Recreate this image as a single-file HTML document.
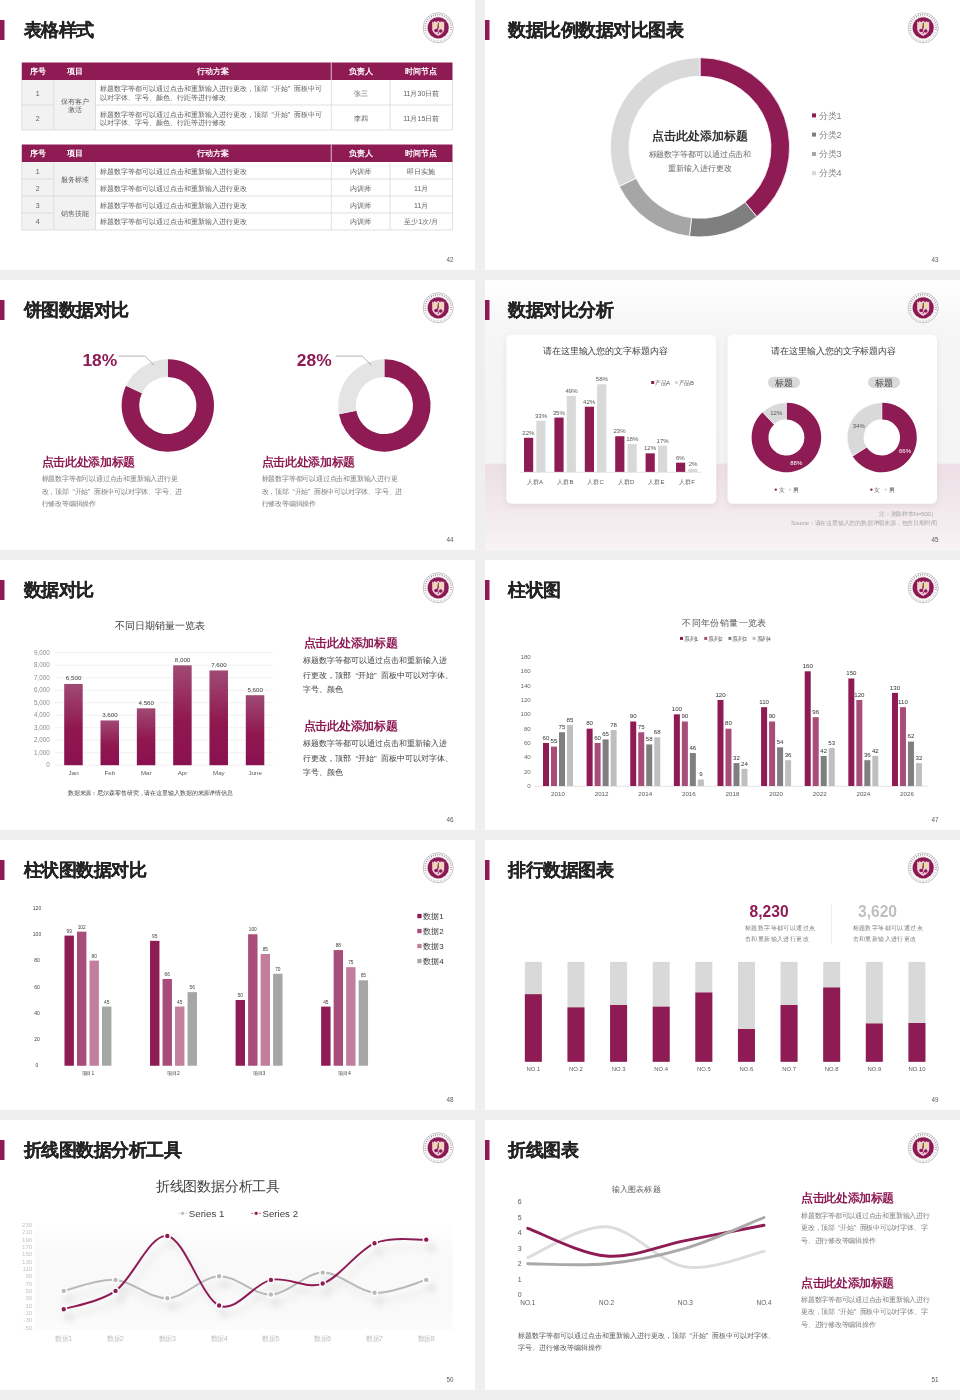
<!DOCTYPE html>
<html lang="zh"><head><meta charset="utf-8"><title>slides</title>
<style>
html,body{margin:0;padding:0}
body{width:960px;height:1400px;background:#efefef;position:relative;overflow:hidden;font-family:"Liberation Sans",sans-serif}
.s{position:absolute;width:475px;height:270px;background:#fff;overflow:hidden}
.w{position:absolute;left:0;top:0;width:475px;height:270px;will-change:transform}
svg{position:absolute;left:0;top:0;font-family:"Liberation Sans",sans-serif}
.t{position:absolute;white-space:nowrap}
.q{margin:0 .5em}
.h{-webkit-text-stroke:.2px #242424}
</style></head>
<body>
<div class="s" style="left:0px;top:0px"><div class="w">
<svg width="475" height="270" viewBox="0 0 475 270">
<rect x="21.75" y="80" width="73.75" height="50" fill="#f2f2f2"/><rect x="21.75" y="62.5" width="430.75" height="17.5" fill="#8e1b54"/><path d="M331.25 62.5V80" stroke="#fff" stroke-width=".7"/><path d="M21.75 80V130M53.75 80V130M95.5 80V130M331.25 80V130M390 80V130M452.5 80V130M21.75 130H452.5" stroke="#d4d4d4" stroke-width=".7" fill="none"/><path d="M21.75 105H53.75M95.5 105H452.5" stroke="#d4d4d4" stroke-width=".7"/><rect x="21.75" y="162" width="73.75" height="68" fill="#f2f2f2"/><rect x="21.75" y="144.5" width="430.75" height="17.5" fill="#8e1b54"/><path d="M331.25 144.5V162" stroke="#fff" stroke-width=".7"/><path d="M21.75 162V230M53.75 162V230M95.5 162V230M331.25 162V230M390 162V230M452.5 162V230M21.75 230H452.5" stroke="#d4d4d4" stroke-width=".7" fill="none"/><path d="M21.75 179H53.75M95.5 179H452.5M21.75 213H53.75M95.5 213H452.5M21.75 196H452.5" stroke="#d4d4d4" stroke-width=".7"/>
<rect x="0" y="20" width="4.5" height="20" fill="#8e1b54"/>
<g transform="translate(438.2 27.8)">
<circle r="15" fill="#fff" stroke="#9f9a9d" stroke-width=".6"/>
<path d="M-12.500 3A12.900 12.900 0 1 1 12.500 3" fill="none" stroke="#7d6873" stroke-width="1.5" stroke-dasharray=".7 1.55"/>
<path d="M-12.300 4.200A12.900 12.900 0 0 0 12.300 4.200" fill="none" stroke="#c5b3bd" stroke-width="1.300" stroke-dasharray=".6 .9"/>
<circle r="11.2" fill="none" stroke="#f3d9e3" stroke-width=".7"/>
<circle r="10.6" fill="#8a1a52"/>
<path d="M-6-6.500l1.200 1.100 1.300-1.400 1.600 1.300L0-7l1.900 1.500 1.600-1.300 1.300 1.400L6-6.500V1.300C6 4.800 2.700 6.900 0 8.100-2.700 6.900-6 4.800-6 1.300z" fill="#f3ccd9"/>
<path d="M-4.800-4.700h3.900V-.6c-1.500-.2-3 .3-3.900 1.400zM.9-4.700h3.900v6C3.900.2 2.400-.3.900-.2z" fill="#e8dea8"/>
<circle cx="-2.200" cy="2.700" r="1.750" fill="#8a1a52"/><circle cx="2.500" cy="3.100" r="1.750" fill="#8a1a52"/>
<path d="M-.2-5.400h.7l.1 5.200-.9 2.300 1 2.700-.7 1.600-.7-.4.500-1.300-1-2.500z" fill="#8a1a52"/>
</g>
</svg>
<div class="t h" style="left:23.5px;top:19px;font-size:18px;line-height:22px;color:#242424;letter-spacing:-0.45px;font-weight:bold;">表格样式</div>
<div class="t" style="left:400px;top:255px;font-size:6.3px;line-height:9px;color:#595959;text-align:right;width:53.5px;">42</div>
<div class="t" style="left:-2.25px;top:66px;font-size:8px;line-height:11px;color:#fff;font-weight:bold;text-align:center;width:80px;">序号</div><div class="t" style="left:34.62px;top:66px;font-size:8px;line-height:11px;color:#fff;font-weight:bold;text-align:center;width:80px;">项目</div><div class="t" style="left:173.38px;top:66px;font-size:8px;line-height:11px;color:#fff;font-weight:bold;text-align:center;width:80px;">行动方案</div><div class="t" style="left:320.62px;top:66px;font-size:8px;line-height:11px;color:#fff;font-weight:bold;text-align:center;width:80px;">负责人</div><div class="t" style="left:381.25px;top:66px;font-size:8px;line-height:11px;color:#fff;font-weight:bold;text-align:center;width:80px;">时间节点</div><div class="t" style="left:-2.25px;top:148px;font-size:8px;line-height:11px;color:#fff;font-weight:bold;text-align:center;width:80px;">序号</div><div class="t" style="left:34.62px;top:148px;font-size:8px;line-height:11px;color:#fff;font-weight:bold;text-align:center;width:80px;">项目</div><div class="t" style="left:173.38px;top:148px;font-size:8px;line-height:11px;color:#fff;font-weight:bold;text-align:center;width:80px;">行动方案</div><div class="t" style="left:320.62px;top:148px;font-size:8px;line-height:11px;color:#fff;font-weight:bold;text-align:center;width:80px;">负责人</div><div class="t" style="left:381.25px;top:148px;font-size:8px;line-height:11px;color:#fff;font-weight:bold;text-align:center;width:80px;">时间节点</div><div class="t" style="left:17.75px;top:89px;font-size:7px;line-height:9px;color:#5f5f5f;text-align:center;width:40px;">1</div><div class="t" style="left:100px;top:84px;font-size:7px;line-height:9px;color:#5f5f5f;">标题数字等都可以通过点击和重新输入进行更改，顶部<span class="q">“开始”</span>面板中可</div><div class="t" style="left:100px;top:93px;font-size:7px;line-height:9px;color:#5f5f5f;">以对字体、字号、颜色、行距等进行修改</div><div class="t" style="left:330.62px;top:89px;font-size:7px;line-height:9px;color:#5f5f5f;text-align:center;width:60px;">张三</div><div class="t" style="left:391.25px;top:89px;font-size:7px;line-height:9px;color:#5f5f5f;text-align:center;width:60px;">11月30日前</div><div class="t" style="left:17.75px;top:114px;font-size:7px;line-height:9px;color:#5f5f5f;text-align:center;width:40px;">2</div><div class="t" style="left:100px;top:110px;font-size:7px;line-height:9px;color:#5f5f5f;">标题数字等都可以通过点击和重新输入进行更改，顶部<span class="q">“开始”</span>面板中可</div><div class="t" style="left:100px;top:118px;font-size:7px;line-height:9px;color:#5f5f5f;">以对字体、字号、颜色、行距等进行修改</div><div class="t" style="left:330.62px;top:114px;font-size:7px;line-height:9px;color:#5f5f5f;text-align:center;width:60px;">李四</div><div class="t" style="left:391.25px;top:114px;font-size:7px;line-height:9px;color:#5f5f5f;text-align:center;width:60px;">11月15日前</div><div class="t" style="left:49.62px;top:97px;font-size:7px;line-height:9px;color:#5f5f5f;text-align:center;width:50px;">保有客户</div><div class="t" style="left:49.62px;top:105px;font-size:7px;line-height:9px;color:#5f5f5f;text-align:center;width:50px;">激活</div><div class="t" style="left:17.75px;top:167px;font-size:7px;line-height:9px;color:#5f5f5f;text-align:center;width:40px;">1</div><div class="t" style="left:100px;top:167px;font-size:7px;line-height:9px;color:#5f5f5f;">标题数字等都可以通过点击和重新输入进行更改</div><div class="t" style="left:330.62px;top:167px;font-size:7px;line-height:9px;color:#5f5f5f;text-align:center;width:60px;">内训师</div><div class="t" style="left:391.25px;top:167px;font-size:7px;line-height:9px;color:#5f5f5f;text-align:center;width:60px;">即日实施</div><div class="t" style="left:17.75px;top:184px;font-size:7px;line-height:9px;color:#5f5f5f;text-align:center;width:40px;">2</div><div class="t" style="left:100px;top:184px;font-size:7px;line-height:9px;color:#5f5f5f;">标题数字等都可以通过点击和重新输入进行更改</div><div class="t" style="left:330.62px;top:184px;font-size:7px;line-height:9px;color:#5f5f5f;text-align:center;width:60px;">内训师</div><div class="t" style="left:391.25px;top:184px;font-size:7px;line-height:9px;color:#5f5f5f;text-align:center;width:60px;">11月</div><div class="t" style="left:17.75px;top:201px;font-size:7px;line-height:9px;color:#5f5f5f;text-align:center;width:40px;">3</div><div class="t" style="left:100px;top:201px;font-size:7px;line-height:9px;color:#5f5f5f;">标题数字等都可以通过点击和重新输入进行更改</div><div class="t" style="left:330.62px;top:201px;font-size:7px;line-height:9px;color:#5f5f5f;text-align:center;width:60px;">内训师</div><div class="t" style="left:391.25px;top:201px;font-size:7px;line-height:9px;color:#5f5f5f;text-align:center;width:60px;">11月</div><div class="t" style="left:17.75px;top:217px;font-size:7px;line-height:9px;color:#5f5f5f;text-align:center;width:40px;">4</div><div class="t" style="left:100px;top:217px;font-size:7px;line-height:9px;color:#5f5f5f;">标题数字等都可以通过点击和重新输入进行更改</div><div class="t" style="left:330.62px;top:217px;font-size:7px;line-height:9px;color:#5f5f5f;text-align:center;width:60px;">内训师</div><div class="t" style="left:391.25px;top:217px;font-size:7px;line-height:9px;color:#5f5f5f;text-align:center;width:60px;">至少1次/月</div><div class="t" style="left:49.62px;top:175px;font-size:7px;line-height:9px;color:#5f5f5f;text-align:center;width:50px;">服务标准</div><div class="t" style="left:49.62px;top:209px;font-size:7px;line-height:9px;color:#5f5f5f;text-align:center;width:50px;">销售技能</div>
</div></div>

<div class="s" style="left:485px;top:0px"><div class="w">
<svg width="475" height="270" viewBox="0 0 475 270">
<path d="M215 57.7A89.6 89.6 0 0 1 271.75 216.64L259.97 202.24A71 71 0 0 0 215 76.3Z" fill="#8e1b54" stroke="#fff" stroke-width=".8"/><path d="M271.75 216.64A89.6 89.6 0 0 1 204.39 236.27L206.59 217.8A71 71 0 0 0 259.97 202.24Z" fill="#7f7f7f" stroke="#fff" stroke-width=".8"/><path d="M204.39 236.27A89.6 89.6 0 0 1 134.33 186.3L151.08 178.2A71 71 0 0 0 206.59 217.8Z" fill="#a6a6a6" stroke="#fff" stroke-width=".8"/><path d="M134.33 186.3A89.6 89.6 0 0 1 215 57.7L215 76.3A71 71 0 0 0 151.08 178.2Z" fill="#d9d9d9" stroke="#fff" stroke-width=".8"/><rect x="327" y="113.4" width="4" height="4" fill="#8e1b54"/><text x="333.6" y="119" font-size="9" fill="#7f7f7f">分类1</text><rect x="327" y="132.6" width="4" height="4" fill="#7f7f7f"/><text x="333.6" y="138" font-size="9" fill="#7f7f7f">分类2</text><rect x="327" y="152" width="4" height="4" fill="#a6a6a6"/><text x="333.6" y="157" font-size="9" fill="#7f7f7f">分类3</text><rect x="327" y="171.2" width="4" height="4" fill="#d9d9d9"/><text x="333.6" y="176" font-size="9" fill="#7f7f7f">分类4</text>
<rect x="0" y="20" width="4.5" height="20" fill="#8e1b54"/>
<g transform="translate(438.2 27.8)">
<circle r="15" fill="#fff" stroke="#9f9a9d" stroke-width=".6"/>
<path d="M-12.500 3A12.900 12.900 0 1 1 12.500 3" fill="none" stroke="#7d6873" stroke-width="1.5" stroke-dasharray=".7 1.55"/>
<path d="M-12.300 4.200A12.900 12.900 0 0 0 12.300 4.200" fill="none" stroke="#c5b3bd" stroke-width="1.300" stroke-dasharray=".6 .9"/>
<circle r="11.2" fill="none" stroke="#f3d9e3" stroke-width=".7"/>
<circle r="10.6" fill="#8a1a52"/>
<path d="M-6-6.500l1.200 1.100 1.300-1.400 1.600 1.300L0-7l1.900 1.500 1.600-1.300 1.300 1.400L6-6.500V1.300C6 4.800 2.700 6.900 0 8.100-2.700 6.900-6 4.800-6 1.300z" fill="#f3ccd9"/>
<path d="M-4.800-4.700h3.900V-.6c-1.500-.2-3 .3-3.900 1.400zM.9-4.700h3.900v6C3.900.2 2.400-.3.900-.2z" fill="#e8dea8"/>
<circle cx="-2.200" cy="2.700" r="1.750" fill="#8a1a52"/><circle cx="2.500" cy="3.100" r="1.750" fill="#8a1a52"/>
<path d="M-.2-5.400h.7l.1 5.200-.9 2.300 1 2.700-.7 1.600-.7-.4.500-1.300-1-2.500z" fill="#8a1a52"/>
</g>
</svg>
<div class="t h" style="left:23.1px;top:19px;font-size:18px;line-height:22px;color:#242424;letter-spacing:-0.45px;font-weight:bold;">数据比例数据对比图表</div>
<div class="t" style="left:400px;top:255px;font-size:6.3px;line-height:9px;color:#595959;text-align:right;width:53.5px;">43</div>
<div class="t" style="left:135px;top:128px;font-size:12px;line-height:16px;color:#333;font-weight:bold;text-align:center;width:160px;">点击此处添加标题</div><div class="t" style="left:134.95px;top:149px;font-size:8px;line-height:11px;color:#666;letter-spacing:-0.1px;text-align:center;width:160px;">标题数字等都可以通过点击和</div><div class="t" style="left:134.95px;top:163px;font-size:8px;line-height:11px;color:#666;letter-spacing:-0.1px;text-align:center;width:160px;">重新输入进行更改</div>
</div></div>

<div class="s" style="left:0px;top:280px"><div class="w">
<svg width="475" height="270" viewBox="0 0 475 270">
<path d="M167.8 79.3A46.2 46.2 0 1 1 126 105.83L141.92 113.32A28.6 28.6 0 1 0 167.8 96.9Z" fill="#8e1b54"/><path d="M126 105.83A46.2 46.2 0 0 1 167.8 79.3L167.8 96.9A28.6 28.6 0 0 0 141.92 113.32Z" fill="#e4e4e4"/><path d="M118.5 76.1H144.9L154 85.2" stroke="#7f7f7f" stroke-width=".6" fill="none"/><text x="82.4" y="86" font-size="17.4" fill="#8e1b54" font-weight="bold">18%</text><path d="M384.4 79.3A46.2 46.2 0 1 1 339.02 134.16L356.31 130.86A28.6 28.6 0 1 0 384.4 96.9Z" fill="#8e1b54"/><path d="M339.02 134.16A46.2 46.2 0 0 1 384.4 79.3L384.4 96.9A28.6 28.6 0 0 0 356.31 130.86Z" fill="#e4e4e4"/><path d="M335.8 76.1H362.2L371.3 85.2" stroke="#7f7f7f" stroke-width=".6" fill="none"/><text x="296.8" y="86" font-size="17.4" fill="#8e1b54" font-weight="bold">28%</text>
<rect x="0" y="20" width="4.5" height="20" fill="#8e1b54"/>
<g transform="translate(438.2 27.8)">
<circle r="15" fill="#fff" stroke="#9f9a9d" stroke-width=".6"/>
<path d="M-12.500 3A12.900 12.900 0 1 1 12.500 3" fill="none" stroke="#7d6873" stroke-width="1.5" stroke-dasharray=".7 1.55"/>
<path d="M-12.300 4.200A12.900 12.900 0 0 0 12.300 4.200" fill="none" stroke="#c5b3bd" stroke-width="1.300" stroke-dasharray=".6 .9"/>
<circle r="11.2" fill="none" stroke="#f3d9e3" stroke-width=".7"/>
<circle r="10.6" fill="#8a1a52"/>
<path d="M-6-6.500l1.200 1.100 1.300-1.400 1.600 1.300L0-7l1.900 1.500 1.600-1.300 1.300 1.400L6-6.500V1.300C6 4.800 2.700 6.900 0 8.100-2.700 6.900-6 4.800-6 1.300z" fill="#f3ccd9"/>
<path d="M-4.800-4.700h3.900V-.6c-1.500-.2-3 .3-3.900 1.400zM.9-4.700h3.900v6C3.900.2 2.400-.3.900-.2z" fill="#e8dea8"/>
<circle cx="-2.200" cy="2.700" r="1.750" fill="#8a1a52"/><circle cx="2.500" cy="3.100" r="1.750" fill="#8a1a52"/>
<path d="M-.2-5.400h.7l.1 5.200-.9 2.300 1 2.700-.7 1.600-.7-.4.500-1.300-1-2.500z" fill="#8a1a52"/>
</g>
</svg>
<div class="t h" style="left:23.5px;top:19px;font-size:18px;line-height:22px;color:#242424;letter-spacing:-0.45px;font-weight:bold;">饼图数据对比</div>
<div class="t" style="left:400px;top:255px;font-size:6.3px;line-height:9px;color:#595959;text-align:right;width:53.5px;">44</div>
<div class="t" style="left:41.6px;top:174px;font-size:12px;line-height:16px;color:#8e1b54;letter-spacing:-0.3px;font-weight:bold;">点击此处添加标题</div><div class="t" style="left:41.7px;top:194px;font-size:7px;line-height:9px;color:#7f7f7f;letter-spacing:-0.2px;">标题数字等都可以通过点击和重新输入进行更</div><div class="t" style="left:41.7px;top:207px;font-size:7px;line-height:9px;color:#7f7f7f;letter-spacing:-0.2px;">改，顶部<span class="q">“开始”</span>面板中可以对字体、字号、进</div><div class="t" style="left:41.7px;top:219px;font-size:7px;line-height:9px;color:#7f7f7f;letter-spacing:-0.2px;">行修改等编辑操作</div><div class="t" style="left:261.6px;top:174px;font-size:12px;line-height:16px;color:#8e1b54;letter-spacing:-0.3px;font-weight:bold;">点击此处添加标题</div><div class="t" style="left:261.7px;top:194px;font-size:7px;line-height:9px;color:#7f7f7f;letter-spacing:-0.2px;">标题数字等都可以通过点击和重新输入进行更</div><div class="t" style="left:261.7px;top:207px;font-size:7px;line-height:9px;color:#7f7f7f;letter-spacing:-0.2px;">改，顶部<span class="q">“开始”</span>面板中可以对字体、字号、进</div><div class="t" style="left:261.7px;top:219px;font-size:7px;line-height:9px;color:#7f7f7f;letter-spacing:-0.2px;">行修改等编辑操作</div>
</div></div>

<div class="s" style="left:485px;top:280px"><div class="w">
<svg width="475" height="270" viewBox="0 0 475 270">
<defs><linearGradient id="pk" x1="0" y1="0" x2="0" y2="1"><stop offset="0" stop-color="#ecdfe5"/><stop offset="1" stop-color="#f8f3f5"/></linearGradient>
<linearGradient id="tp" x1="0" y1="0" x2="0" y2="1"><stop offset="0" stop-color="#fff"/><stop offset=".25" stop-color="#f6f6f6"/><stop offset="1" stop-color="#f4f4f4"/></linearGradient>
<filter id="sh" x="-10%" y="-10%" width="120%" height="125%"><feGaussianBlur stdDeviation="3"/></filter></defs>
<rect width="475" height="184" fill="url(#tp)"/><rect y="183.7" width="475" height="87" fill="url(#pk)"/><rect x="21.3" y="57" width="210" height="169" rx="6" fill="#b9a9b1" opacity=".28" filter="url(#sh)"/><rect x="21.3" y="54.5" width="210" height="169.3" rx="5.5" fill="#fff"/><rect x="242.5" y="57" width="209.5" height="169" rx="6" fill="#b9a9b1" opacity=".28" filter="url(#sh)"/><rect x="242.5" y="54.5" width="209.5" height="169.3" rx="5.5" fill="#fff"/><rect x="39" y="157.79" width="9.2" height="34.21" fill="#8e1b54"/><rect x="51.3" y="140.69" width="9.2" height="51.31" fill="#d9d9d9"/><text x="43.4" y="155" font-size="6.1" fill="#595959" text-anchor="middle">22%</text><text x="56.1" y="138" font-size="6.1" fill="#595959" text-anchor="middle">33%</text><text x="49.9" y="204" font-size="6" fill="#595959" text-anchor="middle" letter-spacing="0.2">人群A</text><rect x="69.4" y="137.57" width="9.2" height="54.42" fill="#8e1b54"/><rect x="81.7" y="115.81" width="9.2" height="76.19" fill="#d9d9d9"/><text x="73.8" y="135" font-size="6.1" fill="#595959" text-anchor="middle">35%</text><text x="86.5" y="113" font-size="6.1" fill="#595959" text-anchor="middle">49%</text><text x="80.3" y="204" font-size="6" fill="#595959" text-anchor="middle" letter-spacing="0.2">人群B</text><rect x="99.8" y="126.69" width="9.2" height="65.31" fill="#8e1b54"/><rect x="112.1" y="104.3" width="9.2" height="87.7" fill="#d9d9d9"/><text x="104.2" y="124" font-size="6.1" fill="#595959" text-anchor="middle">42%</text><text x="116.9" y="101" font-size="6.1" fill="#595959" text-anchor="middle">58%</text><text x="110.7" y="204" font-size="6" fill="#595959" text-anchor="middle" letter-spacing="0.2">人群C</text><rect x="130.2" y="156.24" width="9.2" height="35.77" fill="#8e1b54"/><rect x="142.5" y="164.01" width="9.2" height="27.99" fill="#d9d9d9"/><text x="134.6" y="153" font-size="6.1" fill="#595959" text-anchor="middle">23%</text><text x="147.3" y="161" font-size="6.1" fill="#595959" text-anchor="middle">18%</text><text x="141.1" y="204" font-size="6" fill="#595959" text-anchor="middle" letter-spacing="0.2">人群D</text><rect x="160.6" y="173.34" width="9.2" height="18.66" fill="#8e1b54"/><rect x="172.9" y="165.56" width="9.2" height="26.43" fill="#d9d9d9"/><text x="165" y="170" font-size="6.1" fill="#595959" text-anchor="middle">12%</text><text x="177.7" y="163" font-size="6.1" fill="#595959" text-anchor="middle">17%</text><text x="171.5" y="204" font-size="6" fill="#595959" text-anchor="middle" letter-spacing="0.2">人群E</text><rect x="191" y="182.67" width="9.2" height="9.33" fill="#8e1b54"/><rect x="203.3" y="188.89" width="9.2" height="3.11" fill="#d9d9d9"/><text x="195.4" y="180" font-size="6.1" fill="#595959" text-anchor="middle">6%</text><text x="208.1" y="186" font-size="6.1" fill="#595959" text-anchor="middle">2%</text><text x="201.9" y="204" font-size="6" fill="#595959" text-anchor="middle" letter-spacing="0.2">人群F</text><path d="M35 192.3H216" stroke="#d9d9d9" stroke-width=".7"/><rect x="166.2" y="101" width="3" height="3" fill="#8e1b54"/><text x="170" y="105" font-size="6" fill="#595959" letter-spacing="-0.4">产品A</text><rect x="190" y="101" width="3" height="3" fill="#d9d9d9"/><text x="193.8" y="105" font-size="6" fill="#595959" letter-spacing="-0.4">产品B</text><text x="120.25" y="74" font-size="9" fill="#404040" text-anchor="middle" letter-spacing="-0.1">请在这里输入您的文字标题内容</text><text x="348.75" y="74" font-size="9" fill="#404040" text-anchor="middle" letter-spacing="-0.1">请在这里输入您的文字标题内容</text><path d="M301.4 122.7A34.8 34.8 0 1 1 277.58 132.13L289.08 144.38A18 18 0 1 0 301.4 139.5Z" fill="#8e1b54"/><path d="M277.58 132.13A34.8 34.8 0 0 1 301.4 122.7L301.4 139.5A18 18 0 0 0 289.08 144.38Z" fill="#d9d9d9" stroke="#fff" stroke-width=".5"/><text x="291.3" y="135" font-size="6" fill="#595959" text-anchor="middle">12%</text><text x="311.3" y="185" font-size="6" fill="#fff" text-anchor="middle">88%</text><rect x="283" y="96.7" width="32" height="11.3" rx="5.6" fill="#d9d9d9"/><text x="298.9" y="106" font-size="9" fill="#404040" text-anchor="middle" letter-spacing="-0.2">标题</text><circle cx="290.8" cy="209.6" r="1.2" fill="#8e1b54"/><text x="293.8" y="212" font-size="6" fill="#595959" letter-spacing="-0.2">女</text><circle cx="305" cy="209.6" r="1.2" fill="#d9d9d9"/><text x="308" y="212" font-size="6" fill="#595959" letter-spacing="-0.2">男</text><path d="M397 122.7A34.8 34.8 0 1 1 367.62 176.15L381.8 167.14A18 18 0 1 0 397 139.5Z" fill="#8e1b54"/><path d="M367.62 176.15A34.8 34.8 0 0 1 397 122.7L397 139.5A18 18 0 0 0 381.8 167.14Z" fill="#d9d9d9" stroke="#fff" stroke-width=".5"/><text x="373.8" y="148" font-size="6" fill="#595959" text-anchor="middle">34%</text><text x="420" y="173" font-size="6" fill="#fff" text-anchor="middle">66%</text><rect x="383" y="96.7" width="32" height="11.3" rx="5.6" fill="#d9d9d9"/><text x="398.9" y="106" font-size="9" fill="#404040" text-anchor="middle" letter-spacing="-0.2">标题</text><circle cx="386.4" cy="209.6" r="1.2" fill="#8e1b54"/><text x="389.4" y="212" font-size="6" fill="#595959" letter-spacing="-0.2">女</text><circle cx="400.6" cy="209.6" r="1.2" fill="#d9d9d9"/><text x="403.6" y="212" font-size="6" fill="#595959" letter-spacing="-0.2">男</text><text x="451.5" y="236" font-size="6" fill="#a6a6a6" text-anchor="end" letter-spacing="-0.2">注：测算样本N=500）</text><text x="451.5" y="245" font-size="6" fill="#a6a6a6" text-anchor="end" letter-spacing="-0.2">Source：请在这里输入您的数据详细来源，包含日期时间</text>
<rect x="0" y="20" width="4.5" height="20" fill="#8e1b54"/>
<g transform="translate(438.2 27.8)">
<circle r="15" fill="#fff" stroke="#9f9a9d" stroke-width=".6"/>
<path d="M-12.500 3A12.900 12.900 0 1 1 12.500 3" fill="none" stroke="#7d6873" stroke-width="1.5" stroke-dasharray=".7 1.55"/>
<path d="M-12.300 4.200A12.900 12.900 0 0 0 12.300 4.200" fill="none" stroke="#c5b3bd" stroke-width="1.300" stroke-dasharray=".6 .9"/>
<circle r="11.2" fill="none" stroke="#f3d9e3" stroke-width=".7"/>
<circle r="10.6" fill="#8a1a52"/>
<path d="M-6-6.500l1.200 1.100 1.300-1.400 1.600 1.300L0-7l1.900 1.500 1.600-1.300 1.300 1.400L6-6.500V1.300C6 4.800 2.700 6.900 0 8.100-2.700 6.900-6 4.800-6 1.300z" fill="#f3ccd9"/>
<path d="M-4.800-4.700h3.900V-.6c-1.500-.2-3 .3-3.900 1.400zM.9-4.700h3.900v6C3.900.2 2.400-.3.900-.2z" fill="#e8dea8"/>
<circle cx="-2.200" cy="2.700" r="1.750" fill="#8a1a52"/><circle cx="2.500" cy="3.100" r="1.750" fill="#8a1a52"/>
<path d="M-.2-5.400h.7l.1 5.200-.9 2.300 1 2.700-.7 1.600-.7-.4.500-1.300-1-2.500z" fill="#8a1a52"/>
</g>
</svg>
<div class="t h" style="left:23.1px;top:19px;font-size:18px;line-height:22px;color:#242424;letter-spacing:-0.45px;font-weight:bold;">数据对比分析</div>
<div class="t" style="left:400px;top:255px;font-size:6.3px;line-height:9px;color:#595959;text-align:right;width:53.5px;">45</div>

</div></div>

<div class="s" style="left:0px;top:560px"><div class="w">
<svg width="475" height="270" viewBox="0 0 475 270">
<defs><linearGradient id="bg5" x1="0" y1="0" x2="0" y2="1"><stop offset="0" stop-color="#a04a74"/><stop offset=".55" stop-color="#90184f"/><stop offset="1" stop-color="#8a1150"/></linearGradient></defs><text x="49.8" y="207" font-size="6.3" fill="#8c8c8c" text-anchor="end">0</text><text x="49.8" y="195" font-size="6.3" fill="#8c8c8c" text-anchor="end">1,000</text><text x="49.8" y="182" font-size="6.3" fill="#8c8c8c" text-anchor="end">2,000</text><text x="49.8" y="170" font-size="6.3" fill="#8c8c8c" text-anchor="end">3,000</text><text x="49.8" y="157" font-size="6.3" fill="#8c8c8c" text-anchor="end">4,000</text><text x="49.8" y="145" font-size="6.3" fill="#8c8c8c" text-anchor="end">5,000</text><text x="49.8" y="132" font-size="6.3" fill="#8c8c8c" text-anchor="end">6,000</text><text x="49.8" y="120" font-size="6.3" fill="#8c8c8c" text-anchor="end">7,000</text><text x="49.8" y="107" font-size="6.3" fill="#8c8c8c" text-anchor="end">8,000</text><text x="49.8" y="95" font-size="6.3" fill="#8c8c8c" text-anchor="end">9,000</text><path d="M55 205.2H273M55 192.7H273M55 180.2H273M55 167.7H273M55 155.2H273M55 142.7H273M55 130.2H273M55 117.7H273M55 105.2H273M55 92.7H273" stroke="#ebebeb" stroke-width=".7"/><rect x="64.2" y="123.95" width="18.5" height="81.25" fill="url(#bg5)"/><text x="73.6" y="120" font-size="6.2" fill="#404040" text-anchor="middle">6,500</text><text x="73.6" y="215" font-size="6.2" fill="#595959" text-anchor="middle">Jan</text><rect x="100.52" y="160.45" width="18.5" height="44.75" fill="url(#bg5)"/><text x="109.92" y="157" font-size="6.2" fill="#404040" text-anchor="middle">3,600</text><text x="109.92" y="215" font-size="6.2" fill="#595959" text-anchor="middle">Feb</text><rect x="136.84" y="148.33" width="18.5" height="56.88" fill="url(#bg5)"/><text x="146.24" y="145" font-size="6.2" fill="#404040" text-anchor="middle">4,560</text><text x="146.24" y="215" font-size="6.2" fill="#595959" text-anchor="middle">Mar</text><rect x="173.16" y="105.33" width="18.5" height="99.88" fill="url(#bg5)"/><text x="182.56" y="102" font-size="6.2" fill="#404040" text-anchor="middle">8,000</text><text x="182.56" y="215" font-size="6.2" fill="#595959" text-anchor="middle">Apr</text><rect x="209.48" y="110.45" width="18.5" height="94.75" fill="url(#bg5)"/><text x="218.88" y="107" font-size="6.2" fill="#404040" text-anchor="middle">7,600</text><text x="218.88" y="215" font-size="6.2" fill="#595959" text-anchor="middle">May</text><rect x="245.8" y="135.2" width="18.5" height="70" fill="url(#bg5)"/><text x="255.2" y="132" font-size="6.2" fill="#404040" text-anchor="middle">5,600</text><text x="255.2" y="215" font-size="6.2" fill="#595959" text-anchor="middle">June</text><text x="159.5" y="69" font-size="10" fill="#404040" text-anchor="middle">不同日期销量一览表</text><text x="67.8" y="235" font-size="6" fill="#404040" letter-spacing="-0.1">数据来源：尼尔森零售研究，请在这里输入数据的来源详情信息</text>
<rect x="0" y="20" width="4.5" height="20" fill="#8e1b54"/>
<g transform="translate(438.2 27.8)">
<circle r="15" fill="#fff" stroke="#9f9a9d" stroke-width=".6"/>
<path d="M-12.500 3A12.900 12.900 0 1 1 12.500 3" fill="none" stroke="#7d6873" stroke-width="1.5" stroke-dasharray=".7 1.55"/>
<path d="M-12.300 4.200A12.900 12.900 0 0 0 12.300 4.200" fill="none" stroke="#c5b3bd" stroke-width="1.300" stroke-dasharray=".6 .9"/>
<circle r="11.2" fill="none" stroke="#f3d9e3" stroke-width=".7"/>
<circle r="10.6" fill="#8a1a52"/>
<path d="M-6-6.500l1.200 1.100 1.300-1.400 1.600 1.300L0-7l1.900 1.500 1.600-1.300 1.300 1.400L6-6.500V1.300C6 4.800 2.700 6.900 0 8.100-2.700 6.900-6 4.800-6 1.300z" fill="#f3ccd9"/>
<path d="M-4.800-4.700h3.900V-.6c-1.500-.2-3 .3-3.900 1.400zM.9-4.700h3.900v6C3.900.2 2.400-.3.900-.2z" fill="#e8dea8"/>
<circle cx="-2.200" cy="2.700" r="1.750" fill="#8a1a52"/><circle cx="2.500" cy="3.100" r="1.750" fill="#8a1a52"/>
<path d="M-.2-5.400h.7l.1 5.200-.9 2.300 1 2.700-.7 1.600-.7-.4.500-1.300-1-2.500z" fill="#8a1a52"/>
</g>
</svg>
<div class="t h" style="left:23.5px;top:19px;font-size:18px;line-height:22px;color:#242424;letter-spacing:-0.45px;font-weight:bold;">数据对比</div>
<div class="t" style="left:400px;top:255px;font-size:6.3px;line-height:9px;color:#595959;text-align:right;width:53.5px;">46</div>
<div class="t" style="left:303.8px;top:75px;font-size:12px;line-height:16px;color:#8e1b54;letter-spacing:-0.3px;font-weight:bold;">点击此处添加标题</div><div class="t" style="left:303.4px;top:95px;font-size:8px;line-height:11px;color:#404040;">标题数字等都可以通过点击和重新输入进</div><div class="t" style="left:303.4px;top:110px;font-size:8px;line-height:11px;color:#404040;">行更改，顶部<span class="q">“开始”</span>面板中可以对字体、</div><div class="t" style="left:303.4px;top:124px;font-size:8px;line-height:11px;color:#404040;">字号、颜色</div><div class="t" style="left:303.8px;top:158px;font-size:12px;line-height:16px;color:#8e1b54;letter-spacing:-0.3px;font-weight:bold;">点击此处添加标题</div><div class="t" style="left:303.4px;top:178px;font-size:8px;line-height:11px;color:#404040;">标题数字等都可以通过点击和重新输入进</div><div class="t" style="left:303.4px;top:193px;font-size:8px;line-height:11px;color:#404040;">行更改，顶部<span class="q">“开始”</span>面板中可以对字体、</div><div class="t" style="left:303.4px;top:207px;font-size:8px;line-height:11px;color:#404040;">字号、颜色</div>
</div></div>

<div class="s" style="left:485px;top:560px"><div class="w">
<svg width="475" height="270" viewBox="0 0 475 270">
<text x="45.8" y="228" font-size="6.2" fill="#6a6a6a" text-anchor="end">0</text><text x="45.8" y="214" font-size="6.2" fill="#6a6a6a" text-anchor="end">20</text><text x="45.8" y="199" font-size="6.2" fill="#6a6a6a" text-anchor="end">40</text><text x="45.8" y="185" font-size="6.2" fill="#6a6a6a" text-anchor="end">60</text><text x="45.8" y="171" font-size="6.2" fill="#6a6a6a" text-anchor="end">80</text><text x="45.8" y="156" font-size="6.2" fill="#6a6a6a" text-anchor="end">100</text><text x="45.8" y="142" font-size="6.2" fill="#6a6a6a" text-anchor="end">120</text><text x="45.8" y="128" font-size="6.2" fill="#6a6a6a" text-anchor="end">140</text><text x="45.8" y="113" font-size="6.2" fill="#6a6a6a" text-anchor="end">160</text><text x="45.8" y="99" font-size="6.2" fill="#6a6a6a" text-anchor="end">180</text><path d="M50 226.3H443" stroke="#d9d9d9" stroke-width=".7"/><rect x="58" y="183" width="6" height="43" fill="#8e1b54"/><text x="61" y="180" font-size="6.1" fill="#333" text-anchor="middle">60</text><rect x="66" y="186.58" width="6" height="39.42" fill="#a84c7a"/><text x="69" y="183" font-size="6.1" fill="#333" text-anchor="middle">55</text><rect x="74" y="172.25" width="6" height="53.75" fill="#7f7f7f"/><text x="77" y="169" font-size="6.1" fill="#333" text-anchor="middle">75</text><rect x="82" y="165.08" width="6" height="60.92" fill="#bfbfbf"/><text x="85" y="162" font-size="6.1" fill="#333" text-anchor="middle">85</text><text x="73" y="236" font-size="6.2" fill="#595959" text-anchor="middle">2010</text><rect x="101.62" y="168.67" width="6" height="57.33" fill="#8e1b54"/><text x="104.62" y="165" font-size="6.1" fill="#333" text-anchor="middle">80</text><rect x="109.62" y="183" width="6" height="43" fill="#a84c7a"/><text x="112.62" y="180" font-size="6.1" fill="#333" text-anchor="middle">60</text><rect x="117.62" y="179.42" width="6" height="46.58" fill="#7f7f7f"/><text x="120.62" y="176" font-size="6.1" fill="#333" text-anchor="middle">65</text><rect x="125.62" y="170.1" width="6" height="55.9" fill="#bfbfbf"/><text x="128.62" y="167" font-size="6.1" fill="#333" text-anchor="middle">78</text><text x="116.62" y="236" font-size="6.2" fill="#595959" text-anchor="middle">2012</text><rect x="145.24" y="161.5" width="6" height="64.5" fill="#8e1b54"/><text x="148.24" y="158" font-size="6.1" fill="#333" text-anchor="middle">90</text><rect x="153.24" y="172.25" width="6" height="53.75" fill="#a84c7a"/><text x="156.24" y="169" font-size="6.1" fill="#333" text-anchor="middle">75</text><rect x="161.24" y="184.43" width="6" height="41.57" fill="#7f7f7f"/><text x="164.24" y="181" font-size="6.1" fill="#333" text-anchor="middle">58</text><rect x="169.24" y="177.27" width="6" height="48.73" fill="#bfbfbf"/><text x="172.24" y="174" font-size="6.1" fill="#333" text-anchor="middle">68</text><text x="160.24" y="236" font-size="6.2" fill="#595959" text-anchor="middle">2014</text><rect x="188.86" y="154.33" width="6" height="71.67" fill="#8e1b54"/><text x="191.86" y="151" font-size="6.1" fill="#333" text-anchor="middle">100</text><rect x="196.86" y="161.5" width="6" height="64.5" fill="#a84c7a"/><text x="199.86" y="158" font-size="6.1" fill="#333" text-anchor="middle">90</text><rect x="204.86" y="193.03" width="6" height="32.97" fill="#7f7f7f"/><text x="207.86" y="190" font-size="6.1" fill="#333" text-anchor="middle">46</text><rect x="212.86" y="219.55" width="6" height="6.45" fill="#bfbfbf"/><text x="215.86" y="216" font-size="6.1" fill="#333" text-anchor="middle">9</text><text x="203.86" y="236" font-size="6.2" fill="#595959" text-anchor="middle">2016</text><rect x="232.48" y="140" width="6" height="86" fill="#8e1b54"/><text x="235.48" y="137" font-size="6.1" fill="#333" text-anchor="middle">120</text><rect x="240.48" y="168.67" width="6" height="57.33" fill="#a84c7a"/><text x="243.48" y="165" font-size="6.1" fill="#333" text-anchor="middle">80</text><rect x="248.48" y="203.07" width="6" height="22.93" fill="#7f7f7f"/><text x="251.48" y="200" font-size="6.1" fill="#333" text-anchor="middle">32</text><rect x="256.48" y="208.8" width="6" height="17.2" fill="#bfbfbf"/><text x="259.48" y="206" font-size="6.1" fill="#333" text-anchor="middle">24</text><text x="247.48" y="236" font-size="6.2" fill="#595959" text-anchor="middle">2018</text><rect x="276.1" y="147.17" width="6" height="78.83" fill="#8e1b54"/><text x="279.1" y="144" font-size="6.1" fill="#333" text-anchor="middle">110</text><rect x="284.1" y="161.5" width="6" height="64.5" fill="#a84c7a"/><text x="287.1" y="158" font-size="6.1" fill="#333" text-anchor="middle">90</text><rect x="292.1" y="187.3" width="6" height="38.7" fill="#7f7f7f"/><text x="295.1" y="184" font-size="6.1" fill="#333" text-anchor="middle">54</text><rect x="300.1" y="200.2" width="6" height="25.8" fill="#bfbfbf"/><text x="303.1" y="197" font-size="6.1" fill="#333" text-anchor="middle">36</text><text x="291.1" y="236" font-size="6.2" fill="#595959" text-anchor="middle">2020</text><rect x="319.72" y="111.33" width="6" height="114.67" fill="#8e1b54"/><text x="322.72" y="108" font-size="6.1" fill="#333" text-anchor="middle">160</text><rect x="327.72" y="157.2" width="6" height="68.8" fill="#a84c7a"/><text x="330.72" y="154" font-size="6.1" fill="#333" text-anchor="middle">96</text><rect x="335.72" y="195.9" width="6" height="30.1" fill="#7f7f7f"/><text x="338.72" y="193" font-size="6.1" fill="#333" text-anchor="middle">42</text><rect x="343.72" y="188.02" width="6" height="37.98" fill="#bfbfbf"/><text x="346.72" y="185" font-size="6.1" fill="#333" text-anchor="middle">53</text><text x="334.72" y="236" font-size="6.2" fill="#595959" text-anchor="middle">2022</text><rect x="363.34" y="118.5" width="6" height="107.5" fill="#8e1b54"/><text x="366.34" y="115" font-size="6.1" fill="#333" text-anchor="middle">150</text><rect x="371.34" y="140" width="6" height="86" fill="#a84c7a"/><text x="374.34" y="137" font-size="6.1" fill="#333" text-anchor="middle">120</text><rect x="379.34" y="200.2" width="6" height="25.8" fill="#7f7f7f"/><text x="382.34" y="197" font-size="6.1" fill="#333" text-anchor="middle">36</text><rect x="387.34" y="195.9" width="6" height="30.1" fill="#bfbfbf"/><text x="390.34" y="193" font-size="6.1" fill="#333" text-anchor="middle">42</text><text x="378.34" y="236" font-size="6.2" fill="#595959" text-anchor="middle">2024</text><rect x="406.96" y="132.83" width="6" height="93.17" fill="#8e1b54"/><text x="409.96" y="130" font-size="6.1" fill="#333" text-anchor="middle">130</text><rect x="414.96" y="147.17" width="6" height="78.83" fill="#a84c7a"/><text x="417.96" y="144" font-size="6.1" fill="#333" text-anchor="middle">110</text><rect x="422.96" y="181.57" width="6" height="44.43" fill="#7f7f7f"/><text x="425.96" y="178" font-size="6.1" fill="#333" text-anchor="middle">62</text><rect x="430.96" y="203.07" width="6" height="22.93" fill="#bfbfbf"/><text x="433.96" y="200" font-size="6.1" fill="#333" text-anchor="middle">32</text><text x="421.96" y="236" font-size="6.2" fill="#595959" text-anchor="middle">2026</text><text x="239.5" y="66" font-size="9" fill="#595959" text-anchor="middle" letter-spacing="0.4">不同年份销量一览表</text><rect x="195" y="76.9" width="3" height="3" fill="#8e1b54"/><text x="199" y="81" font-size="6" fill="#595959" letter-spacing="-0.5">系列1</text><rect x="219.2" y="76.9" width="3" height="3" fill="#a84c7a"/><text x="223.2" y="81" font-size="6" fill="#595959" letter-spacing="-0.5">系列2</text><rect x="243.4" y="76.9" width="3" height="3" fill="#7f7f7f"/><text x="247.4" y="81" font-size="6" fill="#595959" letter-spacing="-0.5">系列3</text><rect x="267.6" y="76.9" width="3" height="3" fill="#bfbfbf"/><text x="271.6" y="81" font-size="6" fill="#595959" letter-spacing="-0.5">系列4</text>
<rect x="0" y="20" width="4.5" height="20" fill="#8e1b54"/>
<g transform="translate(438.2 27.8)">
<circle r="15" fill="#fff" stroke="#9f9a9d" stroke-width=".6"/>
<path d="M-12.500 3A12.900 12.900 0 1 1 12.500 3" fill="none" stroke="#7d6873" stroke-width="1.5" stroke-dasharray=".7 1.55"/>
<path d="M-12.300 4.200A12.900 12.900 0 0 0 12.300 4.200" fill="none" stroke="#c5b3bd" stroke-width="1.300" stroke-dasharray=".6 .9"/>
<circle r="11.2" fill="none" stroke="#f3d9e3" stroke-width=".7"/>
<circle r="10.6" fill="#8a1a52"/>
<path d="M-6-6.500l1.200 1.100 1.300-1.400 1.600 1.300L0-7l1.900 1.500 1.600-1.300 1.300 1.400L6-6.500V1.300C6 4.800 2.700 6.900 0 8.100-2.700 6.900-6 4.800-6 1.300z" fill="#f3ccd9"/>
<path d="M-4.800-4.700h3.900V-.6c-1.500-.2-3 .3-3.900 1.400zM.9-4.700h3.900v6C3.900.2 2.400-.3.900-.2z" fill="#e8dea8"/>
<circle cx="-2.200" cy="2.700" r="1.750" fill="#8a1a52"/><circle cx="2.500" cy="3.100" r="1.750" fill="#8a1a52"/>
<path d="M-.2-5.400h.7l.1 5.200-.9 2.300 1 2.700-.7 1.600-.7-.4.500-1.300-1-2.500z" fill="#8a1a52"/>
</g>
</svg>
<div class="t h" style="left:23.1px;top:19px;font-size:18px;line-height:22px;color:#242424;letter-spacing:-0.45px;font-weight:bold;">柱状图</div>
<div class="t" style="left:400px;top:255px;font-size:6.3px;line-height:9px;color:#595959;text-align:right;width:53.5px;">47</div>

</div></div>

<div class="s" style="left:0px;top:840px"><div class="w">
<svg width="475" height="270" viewBox="0 0 475 270">
<text x="37" y="227" font-size="5" fill="#404040" text-anchor="middle">0</text><text x="37" y="201" font-size="5" fill="#404040" text-anchor="middle">20</text><text x="37" y="175" font-size="5" fill="#404040" text-anchor="middle">40</text><text x="37" y="149" font-size="5" fill="#404040" text-anchor="middle">60</text><text x="37" y="122" font-size="5" fill="#404040" text-anchor="middle">80</text><text x="37" y="96" font-size="5" fill="#404040" text-anchor="middle">100</text><text x="37" y="70" font-size="5" fill="#404040" text-anchor="middle">120</text><rect x="64.5" y="95.61" width="9.4" height="130.14" fill="#8e1b54"/><text x="69.2" y="93" font-size="4.8" fill="#404040" text-anchor="middle">99</text><rect x="77" y="91.66" width="9.4" height="134.09" fill="#a84c7a"/><text x="81.7" y="89" font-size="4.8" fill="#404040" text-anchor="middle">102</text><rect x="89.5" y="120.58" width="9.4" height="105.17" fill="#c27f9d"/><text x="94.2" y="118" font-size="4.8" fill="#404040" text-anchor="middle">80</text><rect x="102" y="166.59" width="9.4" height="59.16" fill="#a6a6a6"/><text x="106.7" y="164" font-size="4.8" fill="#404040" text-anchor="middle">45</text><text x="87.85" y="235" font-size="5" fill="#404040" text-anchor="middle" letter-spacing="-0.1">项目1</text><rect x="150.05" y="100.86" width="9.4" height="124.89" fill="#8e1b54"/><text x="154.75" y="98" font-size="4.8" fill="#404040" text-anchor="middle">95</text><rect x="162.55" y="138.99" width="9.4" height="86.76" fill="#a84c7a"/><text x="167.25" y="136" font-size="4.8" fill="#404040" text-anchor="middle">66</text><rect x="175.05" y="166.59" width="9.4" height="59.16" fill="#c27f9d"/><text x="179.75" y="164" font-size="4.8" fill="#404040" text-anchor="middle">45</text><rect x="187.55" y="152.13" width="9.4" height="73.62" fill="#a6a6a6"/><text x="192.25" y="149" font-size="4.8" fill="#404040" text-anchor="middle">56</text><text x="173.4" y="235" font-size="5" fill="#404040" text-anchor="middle" letter-spacing="-0.1">项目2</text><rect x="235.6" y="160.02" width="9.4" height="65.73" fill="#8e1b54"/><text x="240.3" y="157" font-size="4.8" fill="#404040" text-anchor="middle">50</text><rect x="248.1" y="94.29" width="9.4" height="131.46" fill="#a84c7a"/><text x="252.8" y="91" font-size="4.8" fill="#404040" text-anchor="middle">100</text><rect x="260.6" y="114.01" width="9.4" height="111.74" fill="#c27f9d"/><text x="265.3" y="111" font-size="4.8" fill="#404040" text-anchor="middle">85</text><rect x="273.1" y="133.73" width="9.4" height="92.02" fill="#a6a6a6"/><text x="277.8" y="131" font-size="4.8" fill="#404040" text-anchor="middle">70</text><text x="258.95" y="235" font-size="5" fill="#404040" text-anchor="middle" letter-spacing="-0.1">项目3</text><rect x="321.15" y="166.59" width="9.4" height="59.16" fill="#8e1b54"/><text x="325.85" y="164" font-size="4.8" fill="#404040" text-anchor="middle">45</text><rect x="333.65" y="110.07" width="9.4" height="115.68" fill="#a84c7a"/><text x="338.35" y="107" font-size="4.8" fill="#404040" text-anchor="middle">88</text><rect x="346.15" y="127.16" width="9.4" height="98.59" fill="#c27f9d"/><text x="350.85" y="124" font-size="4.8" fill="#404040" text-anchor="middle">75</text><rect x="358.65" y="140.3" width="9.4" height="85.45" fill="#a6a6a6"/><text x="363.35" y="137" font-size="4.8" fill="#404040" text-anchor="middle">65</text><text x="344.5" y="235" font-size="5" fill="#404040" text-anchor="middle" letter-spacing="-0.1">项目4</text><rect x="417.3" y="73.9" width="4.3" height="4.3" fill="#8e1b54"/><text x="423.2" y="79" font-size="8" fill="#333">数据1</text><rect x="417.3" y="88.9" width="4.3" height="4.3" fill="#a84c7a"/><text x="423.2" y="94" font-size="8" fill="#333">数据2</text><rect x="417.3" y="103.9" width="4.3" height="4.3" fill="#c27f9d"/><text x="423.2" y="109" font-size="8" fill="#333">数据3</text><rect x="417.3" y="118.9" width="4.3" height="4.3" fill="#a6a6a6"/><text x="423.2" y="124" font-size="8" fill="#333">数据4</text>
<rect x="0" y="20" width="4.5" height="20" fill="#8e1b54"/>
<g transform="translate(438.2 27.8)">
<circle r="15" fill="#fff" stroke="#9f9a9d" stroke-width=".6"/>
<path d="M-12.500 3A12.900 12.900 0 1 1 12.500 3" fill="none" stroke="#7d6873" stroke-width="1.5" stroke-dasharray=".7 1.55"/>
<path d="M-12.300 4.200A12.900 12.900 0 0 0 12.300 4.200" fill="none" stroke="#c5b3bd" stroke-width="1.300" stroke-dasharray=".6 .9"/>
<circle r="11.2" fill="none" stroke="#f3d9e3" stroke-width=".7"/>
<circle r="10.6" fill="#8a1a52"/>
<path d="M-6-6.500l1.200 1.100 1.300-1.400 1.600 1.300L0-7l1.900 1.500 1.600-1.300 1.300 1.400L6-6.500V1.300C6 4.800 2.700 6.900 0 8.100-2.700 6.900-6 4.800-6 1.300z" fill="#f3ccd9"/>
<path d="M-4.800-4.700h3.900V-.6c-1.500-.2-3 .3-3.900 1.400zM.9-4.700h3.900v6C3.900.2 2.400-.3.900-.2z" fill="#e8dea8"/>
<circle cx="-2.200" cy="2.700" r="1.750" fill="#8a1a52"/><circle cx="2.500" cy="3.100" r="1.750" fill="#8a1a52"/>
<path d="M-.2-5.400h.7l.1 5.200-.9 2.300 1 2.700-.7 1.600-.7-.4.500-1.300-1-2.500z" fill="#8a1a52"/>
</g>
</svg>
<div class="t h" style="left:23.5px;top:19px;font-size:18px;line-height:22px;color:#242424;letter-spacing:-0.45px;font-weight:bold;">柱状图数据对比</div>
<div class="t" style="left:400px;top:255px;font-size:6.3px;line-height:9px;color:#595959;text-align:right;width:53.5px;">48</div>

</div></div>

<div class="s" style="left:485px;top:840px"><div class="w">
<svg width="475" height="270" viewBox="0 0 475 270">
<rect x="39.85" y="121.9" width="17" height="99.9" fill="#d9d9d9"/><rect x="39.85" y="154.2" width="17" height="67.6" fill="#8e1b54"/><text x="48.35" y="231" font-size="5.9" fill="#595959" text-anchor="middle">NO.1</text><rect x="82.47" y="121.9" width="17" height="99.9" fill="#d9d9d9"/><rect x="82.47" y="167.4" width="17" height="54.4" fill="#8e1b54"/><text x="90.97" y="231" font-size="5.9" fill="#595959" text-anchor="middle">NO.2</text><rect x="125.09" y="121.9" width="17" height="99.9" fill="#d9d9d9"/><rect x="125.09" y="165" width="17" height="56.8" fill="#8e1b54"/><text x="133.59" y="231" font-size="5.9" fill="#595959" text-anchor="middle">NO.3</text><rect x="167.71" y="121.9" width="17" height="99.9" fill="#d9d9d9"/><rect x="167.71" y="166.7" width="17" height="55.1" fill="#8e1b54"/><text x="176.21" y="231" font-size="5.9" fill="#595959" text-anchor="middle">NO.4</text><rect x="210.33" y="121.9" width="17" height="99.9" fill="#d9d9d9"/><rect x="210.33" y="152.5" width="17" height="69.3" fill="#8e1b54"/><text x="218.83" y="231" font-size="5.9" fill="#595959" text-anchor="middle">NO.5</text><rect x="252.95" y="121.9" width="17" height="99.9" fill="#d9d9d9"/><rect x="252.95" y="189" width="17" height="32.8" fill="#8e1b54"/><text x="261.45" y="231" font-size="5.9" fill="#595959" text-anchor="middle">NO.6</text><rect x="295.57" y="121.9" width="17" height="99.9" fill="#d9d9d9"/><rect x="295.57" y="165" width="17" height="56.8" fill="#8e1b54"/><text x="304.07" y="231" font-size="5.9" fill="#595959" text-anchor="middle">NO.7</text><rect x="338.19" y="121.9" width="17" height="99.9" fill="#d9d9d9"/><rect x="338.19" y="147.5" width="17" height="74.3" fill="#8e1b54"/><text x="346.69" y="231" font-size="5.9" fill="#595959" text-anchor="middle">NO.8</text><rect x="380.81" y="121.9" width="17" height="99.9" fill="#d9d9d9"/><rect x="380.81" y="183.5" width="17" height="38.3" fill="#8e1b54"/><text x="389.31" y="231" font-size="5.9" fill="#595959" text-anchor="middle">NO.9</text><rect x="423.43" y="121.9" width="17" height="99.9" fill="#d9d9d9"/><rect x="423.43" y="183" width="17" height="38.8" fill="#8e1b54"/><text x="431.93" y="231" font-size="5.9" fill="#595959" text-anchor="middle">NO.10</text><text x="264.6" y="77" font-size="15.6" fill="#8e1b54" font-weight="bold">8,230</text><text x="373" y="77" font-size="15.6" fill="#bfbfbf" font-weight="bold">3,620</text><path d="M346.5 64V104" stroke="#e6e6e6" stroke-width=".7"/><text x="260" y="90" font-size="6" fill="#7f7f7f" letter-spacing="0.4">标题数字等都可以通过点</text><text x="260" y="101" font-size="6" fill="#7f7f7f" letter-spacing="0.4">击和重新输入进行更改</text><text x="367.6" y="90" font-size="6" fill="#7f7f7f" letter-spacing="0.4">标题数字等都可以通过点</text><text x="367.6" y="101" font-size="6" fill="#7f7f7f" letter-spacing="0.4">击和重新输入进行更改</text>
<rect x="0" y="20" width="4.5" height="20" fill="#8e1b54"/>
<g transform="translate(438.2 27.8)">
<circle r="15" fill="#fff" stroke="#9f9a9d" stroke-width=".6"/>
<path d="M-12.500 3A12.900 12.900 0 1 1 12.500 3" fill="none" stroke="#7d6873" stroke-width="1.5" stroke-dasharray=".7 1.55"/>
<path d="M-12.300 4.200A12.900 12.900 0 0 0 12.300 4.200" fill="none" stroke="#c5b3bd" stroke-width="1.300" stroke-dasharray=".6 .9"/>
<circle r="11.2" fill="none" stroke="#f3d9e3" stroke-width=".7"/>
<circle r="10.6" fill="#8a1a52"/>
<path d="M-6-6.500l1.200 1.100 1.300-1.400 1.600 1.300L0-7l1.900 1.500 1.600-1.300 1.300 1.400L6-6.500V1.300C6 4.800 2.700 6.900 0 8.100-2.700 6.900-6 4.800-6 1.300z" fill="#f3ccd9"/>
<path d="M-4.800-4.700h3.900V-.6c-1.500-.2-3 .3-3.900 1.400zM.9-4.700h3.900v6C3.900.2 2.400-.3.900-.2z" fill="#e8dea8"/>
<circle cx="-2.200" cy="2.700" r="1.750" fill="#8a1a52"/><circle cx="2.500" cy="3.100" r="1.750" fill="#8a1a52"/>
<path d="M-.2-5.400h.7l.1 5.200-.9 2.300 1 2.700-.7 1.600-.7-.4.500-1.300-1-2.500z" fill="#8a1a52"/>
</g>
</svg>
<div class="t h" style="left:23.1px;top:19px;font-size:18px;line-height:22px;color:#242424;letter-spacing:-0.45px;font-weight:bold;">排行数据图表</div>
<div class="t" style="left:400px;top:255px;font-size:6.3px;line-height:9px;color:#595959;text-align:right;width:53.5px;">49</div>

</div></div>

<div class="s" style="left:0px;top:1120px"><div class="w">
<svg width="475" height="270" viewBox="0 0 475 270">
<defs><linearGradient id="pl" x1="0" y1="0" x2="0" y2="1"><stop offset="0" stop-color="#fefefe"/><stop offset=".3" stop-color="#f9f9f9"/><stop offset=".8" stop-color="#f9f9f9"/><stop offset="1" stop-color="#fcfcfc"/></linearGradient>
<filter id="bl" x="-10%" y="-30%" width="120%" height="160%"><feGaussianBlur stdDeviation="3.2"/></filter></defs>
<rect x="35" y="104.5" width="417.5" height="105.5" fill="url(#pl)"/><text x="32.3" y="107" font-size="6.2" fill="#c4c4c4" text-anchor="end">230</text><text x="32.3" y="114" font-size="6.2" fill="#c4c4c4" text-anchor="end">210</text><text x="32.3" y="122" font-size="6.2" fill="#c4c4c4" text-anchor="end">190</text><text x="32.3" y="129" font-size="6.2" fill="#c4c4c4" text-anchor="end">170</text><text x="32.3" y="136" font-size="6.2" fill="#c4c4c4" text-anchor="end">150</text><text x="32.3" y="144" font-size="6.2" fill="#c4c4c4" text-anchor="end">130</text><text x="32.3" y="151" font-size="6.2" fill="#c4c4c4" text-anchor="end">110</text><text x="32.3" y="158" font-size="6.2" fill="#c4c4c4" text-anchor="end">90</text><text x="32.3" y="166" font-size="6.2" fill="#c4c4c4" text-anchor="end">70</text><text x="32.3" y="173" font-size="6.2" fill="#c4c4c4" text-anchor="end">50</text><text x="32.3" y="180" font-size="6.2" fill="#c4c4c4" text-anchor="end">30</text><text x="32.3" y="188" font-size="6.2" fill="#c4c4c4" text-anchor="end">10</text><text x="32.3" y="195" font-size="6.2" fill="#c4c4c4" text-anchor="end">-10</text><text x="32.3" y="202" font-size="6.2" fill="#c4c4c4" text-anchor="end">-30</text><text x="32.3" y="210" font-size="6.2" fill="#c4c4c4" text-anchor="end">-50</text><g transform="translate(5 8)" filter="url(#bl)" opacity=".2"><path d="M63.75 170.89C72.38 169.06 98.28 158.69 115.54 159.91C132.8 161.13 150.07 178.82 167.33 178.21C184.59 177.6 201.86 156.86 219.12 156.25C236.38 155.64 253.65 175.16 270.91 174.55C288.17 173.94 305.44 152.89 322.7 152.59C339.96 152.28 357.23 171.5 374.49 172.72C391.75 173.94 417.65 162.05 426.28 159.91" fill="none" stroke="#9a8f95" stroke-width="2"/><circle cx="63.75" cy="170.89" r="4.6" fill="#9a8f95"/><circle cx="115.54" cy="159.91" r="4.6" fill="#9a8f95"/><circle cx="167.33" cy="178.21" r="4.6" fill="#9a8f95"/><circle cx="219.12" cy="156.25" r="4.6" fill="#9a8f95"/><circle cx="270.91" cy="174.55" r="4.6" fill="#9a8f95"/><circle cx="322.7" cy="152.59" r="4.6" fill="#9a8f95"/><circle cx="374.49" cy="172.72" r="4.6" fill="#9a8f95"/><circle cx="426.28" cy="159.91" r="4.6" fill="#9a8f95"/></g><g transform="translate(5 8)" filter="url(#bl)" opacity=".2"><path d="M63.75 189.2C72.38 186.15 98.28 183.1 115.54 170.89C132.8 158.69 150.07 113.54 167.33 115.98C184.59 118.42 201.86 178.21 219.12 185.54C236.38 192.86 253.65 163.57 270.91 159.91C288.17 156.25 305.44 169.67 322.7 163.57C339.96 157.47 357.23 130.62 374.49 123.3C391.75 115.98 417.65 120.25 426.28 119.64" fill="none" stroke="#9a8f95" stroke-width="2"/><circle cx="63.75" cy="189.2" r="4.6" fill="#9a8f95"/><circle cx="115.54" cy="170.89" r="4.6" fill="#9a8f95"/><circle cx="167.33" cy="115.98" r="4.6" fill="#9a8f95"/><circle cx="219.12" cy="185.54" r="4.6" fill="#9a8f95"/><circle cx="270.91" cy="159.91" r="4.6" fill="#9a8f95"/><circle cx="322.7" cy="163.57" r="4.6" fill="#9a8f95"/><circle cx="374.49" cy="123.3" r="4.6" fill="#9a8f95"/><circle cx="426.28" cy="119.64" r="4.6" fill="#9a8f95"/></g><path d="M63.75 170.89C72.38 169.06 98.28 158.69 115.54 159.91C132.8 161.13 150.07 178.82 167.33 178.21C184.59 177.6 201.86 156.86 219.12 156.25C236.38 155.64 253.65 175.16 270.91 174.55C288.17 173.94 305.44 152.89 322.7 152.59C339.96 152.28 357.23 171.5 374.49 172.72C391.75 173.94 417.65 162.05 426.28 159.91" fill="none" stroke="#b9b9b9" stroke-width="1.95"/><circle cx="63.75" cy="170.89" r="2.9" fill="#b9b9b9" stroke="#fff" stroke-width="1.4"/><circle cx="115.54" cy="159.91" r="2.9" fill="#b9b9b9" stroke="#fff" stroke-width="1.4"/><circle cx="167.33" cy="178.21" r="2.9" fill="#b9b9b9" stroke="#fff" stroke-width="1.4"/><circle cx="219.12" cy="156.25" r="2.9" fill="#b9b9b9" stroke="#fff" stroke-width="1.4"/><circle cx="270.91" cy="174.55" r="2.9" fill="#b9b9b9" stroke="#fff" stroke-width="1.4"/><circle cx="322.7" cy="152.59" r="2.9" fill="#b9b9b9" stroke="#fff" stroke-width="1.4"/><circle cx="374.49" cy="172.72" r="2.9" fill="#b9b9b9" stroke="#fff" stroke-width="1.4"/><circle cx="426.28" cy="159.91" r="2.9" fill="#b9b9b9" stroke="#fff" stroke-width="1.4"/><path d="M63.75 189.2C72.38 186.15 98.28 183.1 115.54 170.89C132.8 158.69 150.07 113.54 167.33 115.98C184.59 118.42 201.86 178.21 219.12 185.54C236.38 192.86 253.65 163.57 270.91 159.91C288.17 156.25 305.44 169.67 322.7 163.57C339.96 157.47 357.23 130.62 374.49 123.3C391.75 115.98 417.65 120.25 426.28 119.64" fill="none" stroke="#8e1b54" stroke-width="1.95"/><circle cx="63.75" cy="189.2" r="2.9" fill="#8e1b54" stroke="#fff" stroke-width="1.4"/><circle cx="115.54" cy="170.89" r="2.9" fill="#8e1b54" stroke="#fff" stroke-width="1.4"/><circle cx="167.33" cy="115.98" r="2.9" fill="#8e1b54" stroke="#fff" stroke-width="1.4"/><circle cx="219.12" cy="185.54" r="2.9" fill="#8e1b54" stroke="#fff" stroke-width="1.4"/><circle cx="270.91" cy="159.91" r="2.9" fill="#8e1b54" stroke="#fff" stroke-width="1.4"/><circle cx="322.7" cy="163.57" r="2.9" fill="#8e1b54" stroke="#fff" stroke-width="1.4"/><circle cx="374.49" cy="123.3" r="2.9" fill="#8e1b54" stroke="#fff" stroke-width="1.4"/><circle cx="426.28" cy="119.64" r="2.9" fill="#8e1b54" stroke="#fff" stroke-width="1.4"/><text x="63.5" y="221" font-size="7" fill="#bfbfbf" text-anchor="middle" letter-spacing="-0.5">数据1</text><text x="115.29" y="221" font-size="7" fill="#bfbfbf" text-anchor="middle" letter-spacing="-0.5">数据2</text><text x="167.08" y="221" font-size="7" fill="#bfbfbf" text-anchor="middle" letter-spacing="-0.5">数据3</text><text x="218.87" y="221" font-size="7" fill="#bfbfbf" text-anchor="middle" letter-spacing="-0.5">数据4</text><text x="270.66" y="221" font-size="7" fill="#bfbfbf" text-anchor="middle" letter-spacing="-0.5">数据5</text><text x="322.45" y="221" font-size="7" fill="#bfbfbf" text-anchor="middle" letter-spacing="-0.5">数据6</text><text x="374.24" y="221" font-size="7" fill="#bfbfbf" text-anchor="middle" letter-spacing="-0.5">数据7</text><text x="426.03" y="221" font-size="7" fill="#bfbfbf" text-anchor="middle" letter-spacing="-0.5">数据8</text><text x="217.9" y="71" font-size="14" fill="#404040" text-anchor="middle" letter-spacing="-0.2">折线图数据分析工具</text><path d="M178 93.3H187" stroke="#c9c9c9" stroke-width="1" stroke-dasharray="1.3 1.3"/><circle cx="182.6" cy="93.3" r="1.9" fill="#b9b9b9" stroke="#fff" stroke-width=".6"/><text x="188.8" y="97" font-size="9.7" fill="#404040">Series 1</text><path d="M251.6 93.3H260.600" stroke="#8e1b54" stroke-width="1" stroke-dasharray="1.3 1.3"/><circle cx="256.2" cy="93.3" r="1.9" fill="#8e1b54" stroke="#fff" stroke-width=".6"/><text x="262.5" y="97" font-size="9.7" fill="#404040">Series 2</text>
<rect x="0" y="20" width="4.5" height="20" fill="#8e1b54"/>
<g transform="translate(438.2 27.8)">
<circle r="15" fill="#fff" stroke="#9f9a9d" stroke-width=".6"/>
<path d="M-12.500 3A12.900 12.900 0 1 1 12.500 3" fill="none" stroke="#7d6873" stroke-width="1.5" stroke-dasharray=".7 1.55"/>
<path d="M-12.300 4.200A12.900 12.900 0 0 0 12.300 4.200" fill="none" stroke="#c5b3bd" stroke-width="1.300" stroke-dasharray=".6 .9"/>
<circle r="11.2" fill="none" stroke="#f3d9e3" stroke-width=".7"/>
<circle r="10.6" fill="#8a1a52"/>
<path d="M-6-6.500l1.200 1.100 1.300-1.400 1.600 1.300L0-7l1.900 1.500 1.600-1.300 1.300 1.400L6-6.500V1.300C6 4.800 2.700 6.900 0 8.100-2.700 6.900-6 4.800-6 1.300z" fill="#f3ccd9"/>
<path d="M-4.800-4.700h3.900V-.6c-1.500-.2-3 .3-3.900 1.400zM.9-4.700h3.900v6C3.900.2 2.400-.3.900-.2z" fill="#e8dea8"/>
<circle cx="-2.200" cy="2.700" r="1.750" fill="#8a1a52"/><circle cx="2.500" cy="3.100" r="1.750" fill="#8a1a52"/>
<path d="M-.2-5.400h.7l.1 5.200-.9 2.300 1 2.700-.7 1.600-.7-.4.500-1.300-1-2.500z" fill="#8a1a52"/>
</g>
</svg>
<div class="t h" style="left:23.5px;top:19px;font-size:18px;line-height:22px;color:#242424;letter-spacing:-0.45px;font-weight:bold;">折线图数据分析工具</div>
<div class="t" style="left:400px;top:255px;font-size:6.3px;line-height:9px;color:#595959;text-align:right;width:53.5px;">50</div>

</div></div>

<div class="s" style="left:485px;top:1120px"><div class="w">
<svg width="475" height="270" viewBox="0 0 475 270">
<text x="34.6" y="177" font-size="7" fill="#595959" text-anchor="middle">0</text><text x="34.6" y="162" font-size="7" fill="#595959" text-anchor="middle">1</text><text x="34.6" y="146" font-size="7" fill="#595959" text-anchor="middle">2</text><text x="34.6" y="131" font-size="7" fill="#595959" text-anchor="middle">3</text><text x="34.6" y="115" font-size="7" fill="#595959" text-anchor="middle">4</text><text x="34.6" y="100" font-size="7" fill="#595959" text-anchor="middle">5</text><text x="34.6" y="84" font-size="7" fill="#595959" text-anchor="middle">6</text><path d="M42.75 137.59C55.88 132.45 95.25 105.21 121.5 106.75C147.75 108.29 174 142.73 200.25 146.84C226.5 150.96 265.88 133.99 279 131.42" fill="none" stroke="#dcdcdc" stroke-width="2.9" stroke-linecap="round"/><path d="M42.75 108.29C55.88 112.92 95.25 133.99 121.5 136.05C147.75 138.11 174 125.77 200.25 120.63C226.5 115.49 265.88 107.78 279 105.21" fill="none" stroke="#8e1b54" stroke-width="2.9" stroke-linecap="round"/><path d="M42.75 143.76C55.88 143.76 95.25 146.33 121.5 143.76C147.75 141.19 174 136.05 200.25 128.34C226.5 120.63 265.88 102.64 279 97.5" fill="none" stroke="#aaa8a9" stroke-width="2.9" stroke-linecap="round"/><text x="42.75" y="185" font-size="6.4" fill="#595959" text-anchor="middle">NO.1</text><text x="121.5" y="185" font-size="6.4" fill="#595959" text-anchor="middle">NO.2</text><text x="200.25" y="185" font-size="6.4" fill="#595959" text-anchor="middle">NO.3</text><text x="279" y="185" font-size="6.4" fill="#595959" text-anchor="middle">NO.4</text><text x="151.35" y="72" font-size="8" fill="#595959" text-anchor="middle" letter-spacing="0.1">输入图表标题</text>
<rect x="0" y="20" width="4.5" height="20" fill="#8e1b54"/>
<g transform="translate(438.2 27.8)">
<circle r="15" fill="#fff" stroke="#9f9a9d" stroke-width=".6"/>
<path d="M-12.500 3A12.900 12.900 0 1 1 12.500 3" fill="none" stroke="#7d6873" stroke-width="1.5" stroke-dasharray=".7 1.55"/>
<path d="M-12.300 4.200A12.900 12.900 0 0 0 12.300 4.200" fill="none" stroke="#c5b3bd" stroke-width="1.300" stroke-dasharray=".6 .9"/>
<circle r="11.2" fill="none" stroke="#f3d9e3" stroke-width=".7"/>
<circle r="10.6" fill="#8a1a52"/>
<path d="M-6-6.500l1.200 1.100 1.300-1.400 1.600 1.300L0-7l1.900 1.500 1.600-1.300 1.300 1.400L6-6.500V1.300C6 4.800 2.700 6.900 0 8.100-2.700 6.900-6 4.800-6 1.300z" fill="#f3ccd9"/>
<path d="M-4.800-4.700h3.900V-.6c-1.500-.2-3 .3-3.900 1.400zM.9-4.700h3.900v6C3.900.2 2.400-.3.900-.2z" fill="#e8dea8"/>
<circle cx="-2.200" cy="2.700" r="1.750" fill="#8a1a52"/><circle cx="2.500" cy="3.100" r="1.750" fill="#8a1a52"/>
<path d="M-.2-5.400h.7l.1 5.200-.9 2.300 1 2.700-.7 1.600-.7-.4.500-1.300-1-2.500z" fill="#8a1a52"/>
</g>
</svg>
<div class="t h" style="left:23.1px;top:19px;font-size:18px;line-height:22px;color:#242424;letter-spacing:-0.45px;font-weight:bold;">折线图表</div>
<div class="t" style="left:400px;top:255px;font-size:6.3px;line-height:9px;color:#595959;text-align:right;width:53.5px;">51</div>
<div class="t" style="left:33px;top:211px;font-size:7px;line-height:9px;color:#595959;">标题数字等都可以通过点击和重新输入进行更改，顶部<span class="q">“开始”</span>面板中可以对字体、</div><div class="t" style="left:33px;top:223px;font-size:7px;line-height:9px;color:#595959;">字号、进行修改等编辑操作</div><div class="t" style="left:316.2px;top:70px;font-size:12px;line-height:16px;color:#8e1b54;letter-spacing:-0.4px;font-weight:bold;">点击此处添加标题</div><div class="t" style="left:316px;top:91px;font-size:7px;line-height:9px;color:#7f7f7f;letter-spacing:-0.23px;">标题数字等都可以通过点击和重新输入进行</div><div class="t" style="left:316px;top:103px;font-size:7px;line-height:9px;color:#7f7f7f;letter-spacing:-0.23px;">更改，顶部<span class="q">“开始”</span>面板中可以对字体、字</div><div class="t" style="left:316px;top:116px;font-size:7px;line-height:9px;color:#7f7f7f;letter-spacing:-0.23px;">号、进行修改等编辑操作</div><div class="t" style="left:316.2px;top:155px;font-size:12px;line-height:16px;color:#8e1b54;letter-spacing:-0.4px;font-weight:bold;">点击此处添加标题</div><div class="t" style="left:316px;top:175px;font-size:7px;line-height:9px;color:#7f7f7f;letter-spacing:-0.23px;">标题数字等都可以通过点击和重新输入进行</div><div class="t" style="left:316px;top:187px;font-size:7px;line-height:9px;color:#7f7f7f;letter-spacing:-0.23px;">更改，顶部<span class="q">“开始”</span>面板中可以对字体、字</div><div class="t" style="left:316px;top:200px;font-size:7px;line-height:9px;color:#7f7f7f;letter-spacing:-0.23px;">号、进行修改等编辑操作</div>
</div></div>
</body></html>
